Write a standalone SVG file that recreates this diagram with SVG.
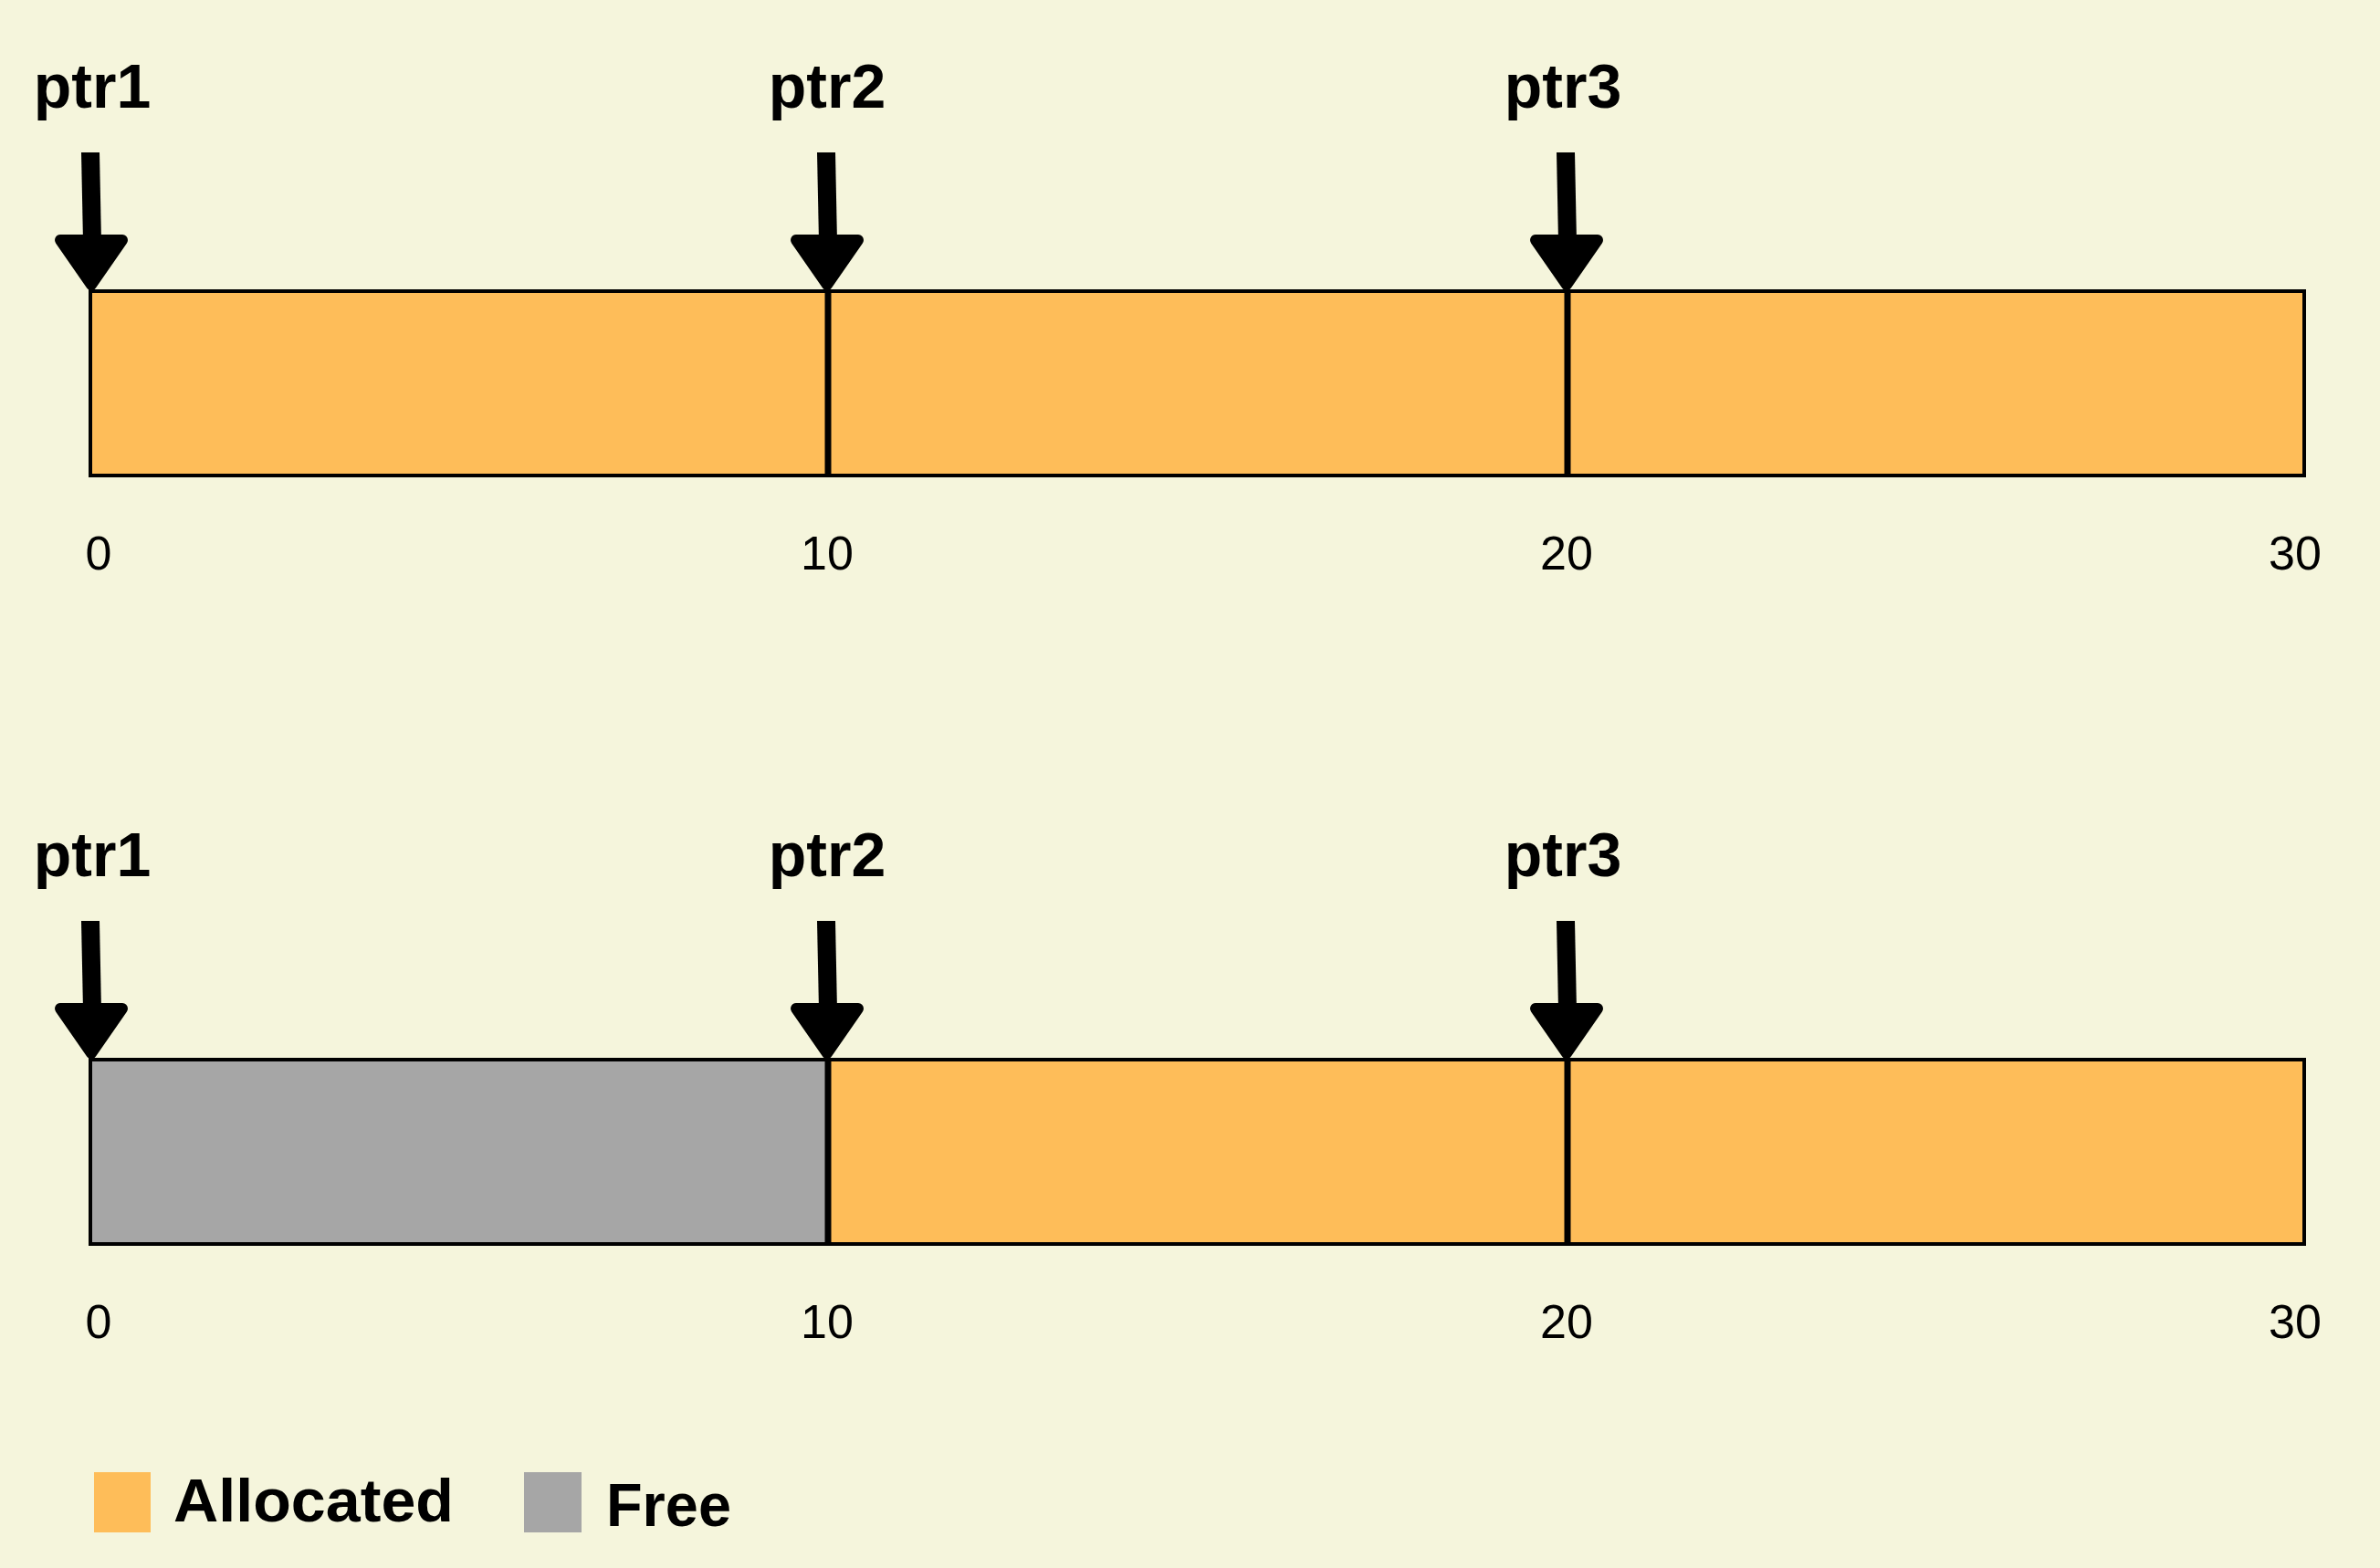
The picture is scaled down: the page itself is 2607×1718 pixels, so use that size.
<svg xmlns="http://www.w3.org/2000/svg" xmlns:xlink="http://www.w3.org/1999/xlink" width="2607" height="1718" viewBox="0 0 2607 1718">
<style>
.bg{fill:#F5F5DC}
.alloc{fill:#FEBD59;stroke:#000;stroke-width:4}
.free{fill:#A6A6A6;stroke:#000;stroke-width:4}
.div{stroke:#000;stroke-width:7}
.ptr{font-family:"Liberation Sans",Arial,sans-serif;font-weight:bold;font-size:68px;fill:#000;text-anchor:middle}
.num{font-family:"Liberation Sans",Arial,sans-serif;font-size:52px;fill:#000;text-anchor:middle}
.leg{font-family:"Liberation Sans",Arial,sans-serif;font-weight:bold;font-size:66px;fill:#000}
</style>
<defs>
<g id="arrow">
<polygon points="-11,0 9,0 11,98 -9,98" fill="#000"/>
<polygon points="-34,96 34,96 0,145" fill="#000" stroke="#000" stroke-width="12" stroke-linejoin="round"/>
</g>
</defs>
<rect class="bg" x="0" y="0" width="2607" height="1718"/>

<g id="top-memory">
<rect class="alloc" x="99" y="319" width="808" height="202"/>
<rect class="alloc" x="907" y="319" width="810" height="202"/>
<rect class="alloc" x="1717" y="319" width="807" height="202"/>
<line class="div" x1="907" y1="319" x2="907" y2="521"/>
<line class="div" x1="1717" y1="319" x2="1717" y2="521"/>
<text class="num" x="108" y="624">0</text>
<text class="num" x="906" y="624">10</text>
<text class="num" x="1716" y="624">20</text>
<text class="num" x="2514" y="624">30</text>
</g>

<g id="top-ptr1"><text class="ptr" x="101" y="118">ptr1</text></g>
<g id="top-ptr2"><text class="ptr" x="906" y="118">ptr2</text></g>
<g id="top-ptr3"><text class="ptr" x="1712" y="118">ptr3</text></g>

<g id="bottom-memory">
<rect class="free" x="99" y="1161" width="808" height="202"/>
<rect class="alloc" x="907" y="1161" width="810" height="202"/>
<rect class="alloc" x="1717" y="1161" width="807" height="202"/>
<line class="div" x1="907" y1="1161" x2="907" y2="1363"/>
<line class="div" x1="1717" y1="1161" x2="1717" y2="1363"/>
<text class="num" x="108" y="1466">0</text>
<text class="num" x="906" y="1466">10</text>
<text class="num" x="1716" y="1466">20</text>
<text class="num" x="2514" y="1466">30</text>
</g>

<g id="bottom-ptr1"><text class="ptr" x="101" y="960">ptr1</text></g>
<g id="bottom-ptr2"><text class="ptr" x="906" y="960">ptr2</text></g>
<g id="bottom-ptr3"><text class="ptr" x="1712" y="960">ptr3</text></g>

<g id="connectors">
<use xlink:href="#arrow" x="100" y="167"/>
<use xlink:href="#arrow" x="906" y="167"/>
<use xlink:href="#arrow" x="1716" y="167"/>
<use xlink:href="#arrow" x="100" y="1009"/>
<use xlink:href="#arrow" x="906" y="1009"/>
<use xlink:href="#arrow" x="1716" y="1009"/>
</g>

<g id="legend">
<rect x="103" y="1613" width="62" height="66" fill="#FEBD59"/>
<text class="leg" x="190" y="1667" textLength="307" lengthAdjust="spacingAndGlyphs">Allocated</text>
<rect x="574" y="1613" width="63" height="66" fill="#A6A6A6"/>
<text class="leg" x="664" y="1672" textLength="137" lengthAdjust="spacingAndGlyphs">Free</text>
</g>
</svg>
